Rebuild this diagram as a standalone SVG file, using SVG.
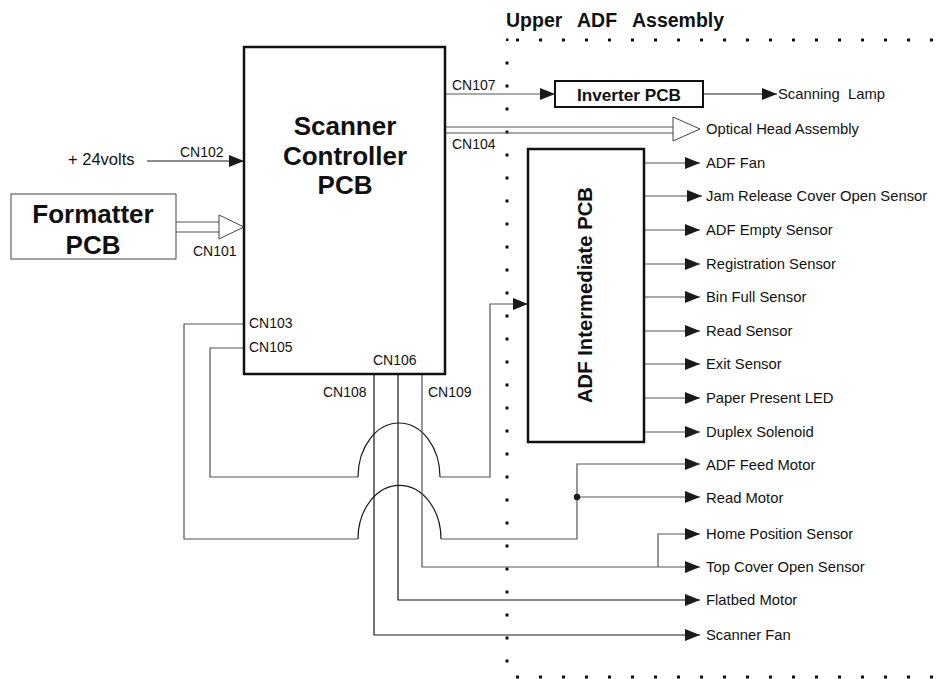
<svg xmlns="http://www.w3.org/2000/svg" width="938" height="679" viewBox="0 0 938 679">
<style>
text{font-family:"Liberation Sans",Arial,Helvetica,sans-serif;fill:#111}
.lbl{font-size:14.8px}
.cn{font-size:14px}
.big{font-size:26px;font-weight:bold;text-anchor:middle}
.ttl{font-size:19.5px;font-weight:bold}
.box{fill:#fff;stroke:#111;stroke-width:2.5}
.w{fill:none;stroke:#555;stroke-width:1.2}
.k{fill:none;stroke:#1a1a1a;stroke-width:1.2}
.a{marker-end:url(#ah)}
.dot{fill:none;stroke:#111;stroke-width:3;stroke-dasharray:3 20}
</style>
<defs>
<marker id="ah" markerUnits="userSpaceOnUse" markerWidth="16" markerHeight="13" refX="15" refY="6" orient="auto">
<path d="M0,0 L15,6 L0,12 z" fill="#1a1a1a"/>
</marker>
</defs>
<rect width="938" height="679" fill="#fff"/>

<g id="upper-adf-assembly">
<text class="ttl" x="506" y="27">Upper</text>
<text class="ttl" x="577" y="27">ADF</text>
<text class="ttl" x="632" y="27">Assembly</text>
<rect x="506" y="38.5" width="2.5" height="2.5" fill="#111"/>
<line class="dot" x1="516" y1="40" x2="938" y2="40"/>
<line class="dot" x1="507" y1="61.5" x2="507" y2="670"/>
<line class="dot" x1="516" y1="677" x2="938" y2="677"/>
</g>

<g id="connectors">
<!-- +24 volts -->
<line class="k a" x1="147" y1="161" x2="244" y2="161"/>
<!-- Formatter to CN101 bus -->
<line class="w" x1="176" y1="222" x2="219" y2="222"/>
<line class="w" x1="176" y1="232" x2="219" y2="232"/>
<path d="M219,215 L244,227 L219,239 z" fill="#fff" stroke="#444" stroke-width="1"/>
<!-- CN107 -->
<line class="w a" x1="445" y1="94" x2="555" y2="94"/>
<line class="k a" x1="703" y1="94" x2="777" y2="94"/>
<!-- CN104 bus -->
<line class="w" x1="445" y1="127" x2="673" y2="127"/>
<line class="w" x1="445" y1="133" x2="673" y2="133"/>
<path d="M673,117 L700,129 L673,141 z" fill="#fff" stroke="#444" stroke-width="1"/>
<!-- ADF intermediate outputs -->
<line class="w a" x1="644" y1="163" x2="700" y2="163"/>
<line class="w a" x1="644" y1="196" x2="702" y2="196"/>
<line class="w a" x1="644" y1="230" x2="700" y2="230"/>
<line class="w a" x1="644" y1="264" x2="700" y2="264"/>
<line class="w a" x1="644" y1="297" x2="700" y2="297"/>
<line class="w a" x1="644" y1="331" x2="700" y2="331"/>
<line class="w a" x1="644" y1="364" x2="700" y2="364"/>
<line class="w a" x1="644" y1="398" x2="700" y2="398"/>
<line class="w a" x1="644" y1="432" x2="700" y2="432"/>
<!-- CN105 to ADF intermediate -->
<path class="w" d="M244,348 H210 V477 H358"/>
<path class="k" d="M358,477 A41,54 0 0 1 440,477"/>
<path class="w a" d="M440,477 H490 V304 H528"/>
<!-- CN103 to motors -->
<path class="w" d="M244,324 H184 V539 H358"/>
<path class="k" d="M358,539 A41,53 0 0 1 441,539"/>
<path class="w a" d="M441,539 H577 V464 H700"/>
<line class="w a" x1="577" y1="497" x2="700" y2="497"/>
<circle cx="577" cy="497" r="3.2" fill="#1a1a1a"/>
<!-- CN109 -->
<path class="w a" d="M422,374 V567 H700"/>
<path class="w a" d="M658,567 V534 H700"/>
<!-- CN106 -->
<path class="k a" d="M398,374 V600 H700"/>
<!-- CN108 -->
<path class="k a" d="M374,374 V635 H700"/>
</g>

<g id="scanner-controller-pcb">
<rect class="box" x="244" y="47" width="201" height="327"/>
<text class="big" x="345" y="135">Scanner</text>
<text class="big" x="345" y="165">Controller</text>
<text class="big" x="345" y="194">PCB</text>
<text class="cn" x="452" y="90">CN107</text>
<text class="cn" x="452" y="149">CN104</text>
<text class="cn" x="180" y="157">CN102</text>
<text class="cn" x="193" y="256">CN101</text>
<text class="cn" x="249" y="328">CN103</text>
<text class="cn" x="249" y="352">CN105</text>
<text class="cn" x="373" y="365">CN106</text>
<text class="cn" x="323" y="397">CN108</text>
<text class="cn" x="428" y="397">CN109</text>
</g>

<g id="power-24v">
<text x="68" y="165" style="font-size:16.5px">+ 24volts</text>
</g>

<g id="formatter-pcb">
<rect x="11" y="194" width="165" height="65" fill="#fff" stroke="#444" stroke-width="1"/>
<text class="big" x="93" y="223">Formatter</text>
<text class="big" x="93" y="254">PCB</text>
</g>

<g id="inverter-pcb">
<rect x="555" y="81" width="148" height="26" fill="#fff" stroke="#111" stroke-width="2"/>
<text x="629" y="101" style="font-size:17px;font-weight:bold;text-anchor:middle" textLength="104" lengthAdjust="spacingAndGlyphs">Inverter PCB</text>
</g>

<g id="adf-intermediate-pcb">
<rect class="box" x="528" y="149" width="116" height="293"/>
<text x="0" y="0" transform="translate(592,295) rotate(-90)" style="font-size:21px;font-weight:bold;text-anchor:middle" textLength="216" lengthAdjust="spacingAndGlyphs">ADF Intermediate PCB</text>
</g>

<g id="outputs">
<text class="lbl" x="778" y="99" xml:space="preserve">Scanning  Lamp</text>
<text class="lbl" x="706" y="134">Optical Head Assembly</text>
<text class="lbl" x="706" y="168">ADF Fan</text>
<text class="lbl" x="706" y="201">Jam Release Cover Open Sensor</text>
<text class="lbl" x="706" y="235">ADF Empty Sensor</text>
<text class="lbl" x="706" y="269">Registration Sensor</text>
<text class="lbl" x="706" y="302">Bin Full Sensor</text>
<text class="lbl" x="706" y="336">Read Sensor</text>
<text class="lbl" x="706" y="369">Exit Sensor</text>
<text class="lbl" x="706" y="403">Paper Present LED</text>
<text class="lbl" x="706" y="437">Duplex Solenoid</text>
<text class="lbl" x="706" y="470">ADF Feed Motor</text>
<text class="lbl" x="706" y="503">Read Motor</text>
<text class="lbl" x="706" y="539">Home Position Sensor</text>
<text class="lbl" x="706" y="572">Top Cover Open Sensor</text>
<text class="lbl" x="706" y="605">Flatbed Motor</text>
<text class="lbl" x="706" y="640">Scanner Fan</text>
</g>
</svg>
